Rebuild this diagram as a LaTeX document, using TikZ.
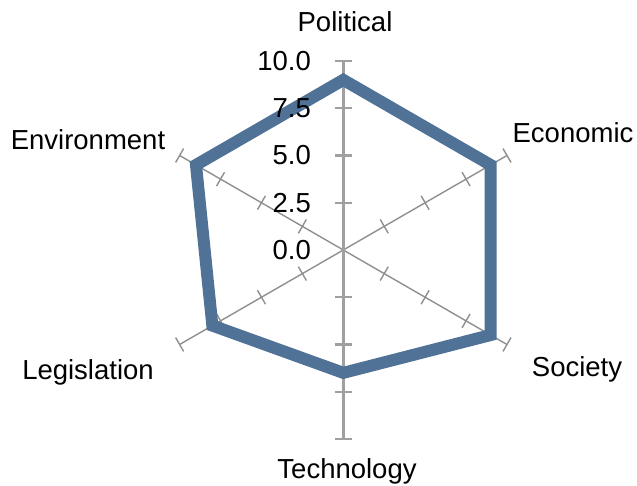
\documentclass[tikz,border=0pt]{standalone}
\usepackage{fontspec}
\setmainfont{Liberation Sans}
\definecolor{serie}{RGB}{79,114,150}
\definecolor{axmain}{RGB}{160,160,160}
\definecolor{axside}{RGB}{143,143,143}
\begin{document}
\begin{tikzpicture}[x=1pt,y=1pt,
  mainaxis/.style={draw=axmain,line width=2.4pt},
  sideaxis/.style={draw=axside,line width=1.4pt},
  serieline/.style={draw=serie,line width=12pt,line join=miter},
  lbl/.style={font=\fontsize{27.5}{32}\selectfont,inner sep=0pt,anchor=base},
  val/.style={font=\fontsize{27.5}{32}\selectfont,inner sep=0pt,anchor=east}]
\path[use as bounding box] (0,0) rectangle (637,486);
\begin{scope}[shift={(343.3,236)}]
  \coordinate (C) at (0,0);
  % side axes
  \foreach \a in {30,-30,210,150}{
    \draw[sideaxis,rotate=\a] (C) -- (189,0);
    \foreach \r in {47.25,94.5,141.75,189}
      \draw[sideaxis,rotate=\a] (\r,-8) -- (\r,8);
  }
  % main vertical axis
  \coordinate (T) at (0,189);
  \coordinate (B) at (0,-189);
  \draw[mainaxis] (B) -- (T);
  \foreach \r in {47.25,94.5,141.75,189}{
    \draw[mainaxis] (-8.3,\r) -- (8.3,\r);
    \draw[mainaxis] (-8.3,-\r) -- (8.3,-\r);
  }
  % data
  \coordinate (pPol) at (90:170.1);
  \coordinate (pEco) at (30:170.1);
  \coordinate (pSoc) at (-30:170.1);
  \coordinate (pTec) at (-90:122.85);
  \coordinate (pLeg) at (210:151.2);
  \coordinate (pEnv) at (150:170.1);
  \draw[serieline] (pPol) -- (pEco) -- (pSoc) -- (pTec) -- (pLeg) -- (pEnv) -- cycle;
  % value labels
  \node[val] (v0) at (-32.3,0) {0.0};
  \node[val] (v1) at (-32.3,47.25) {2.5};
  \node[val] (v2) at (-32.3,94.5) {5.0};
  \node[val] (v3) at (-32.3,141.75) {7.5};
  \node[val] (v4) at (-32.3,189) {10.0};
\end{scope}
\node[lbl] (Political) at (345,454.3) {Political};
\node[lbl] (Economic) at (573,343) {Economic};
\node[lbl] (Society) at (577,109.3) {Society};
\node[lbl] (Technology) at (347,7) {Technology};
\node[lbl] (Legislation) at (88,106) {Legislation};
\node[lbl] (Environment) at (88,336) {Environment};
\end{tikzpicture}
\end{document}
